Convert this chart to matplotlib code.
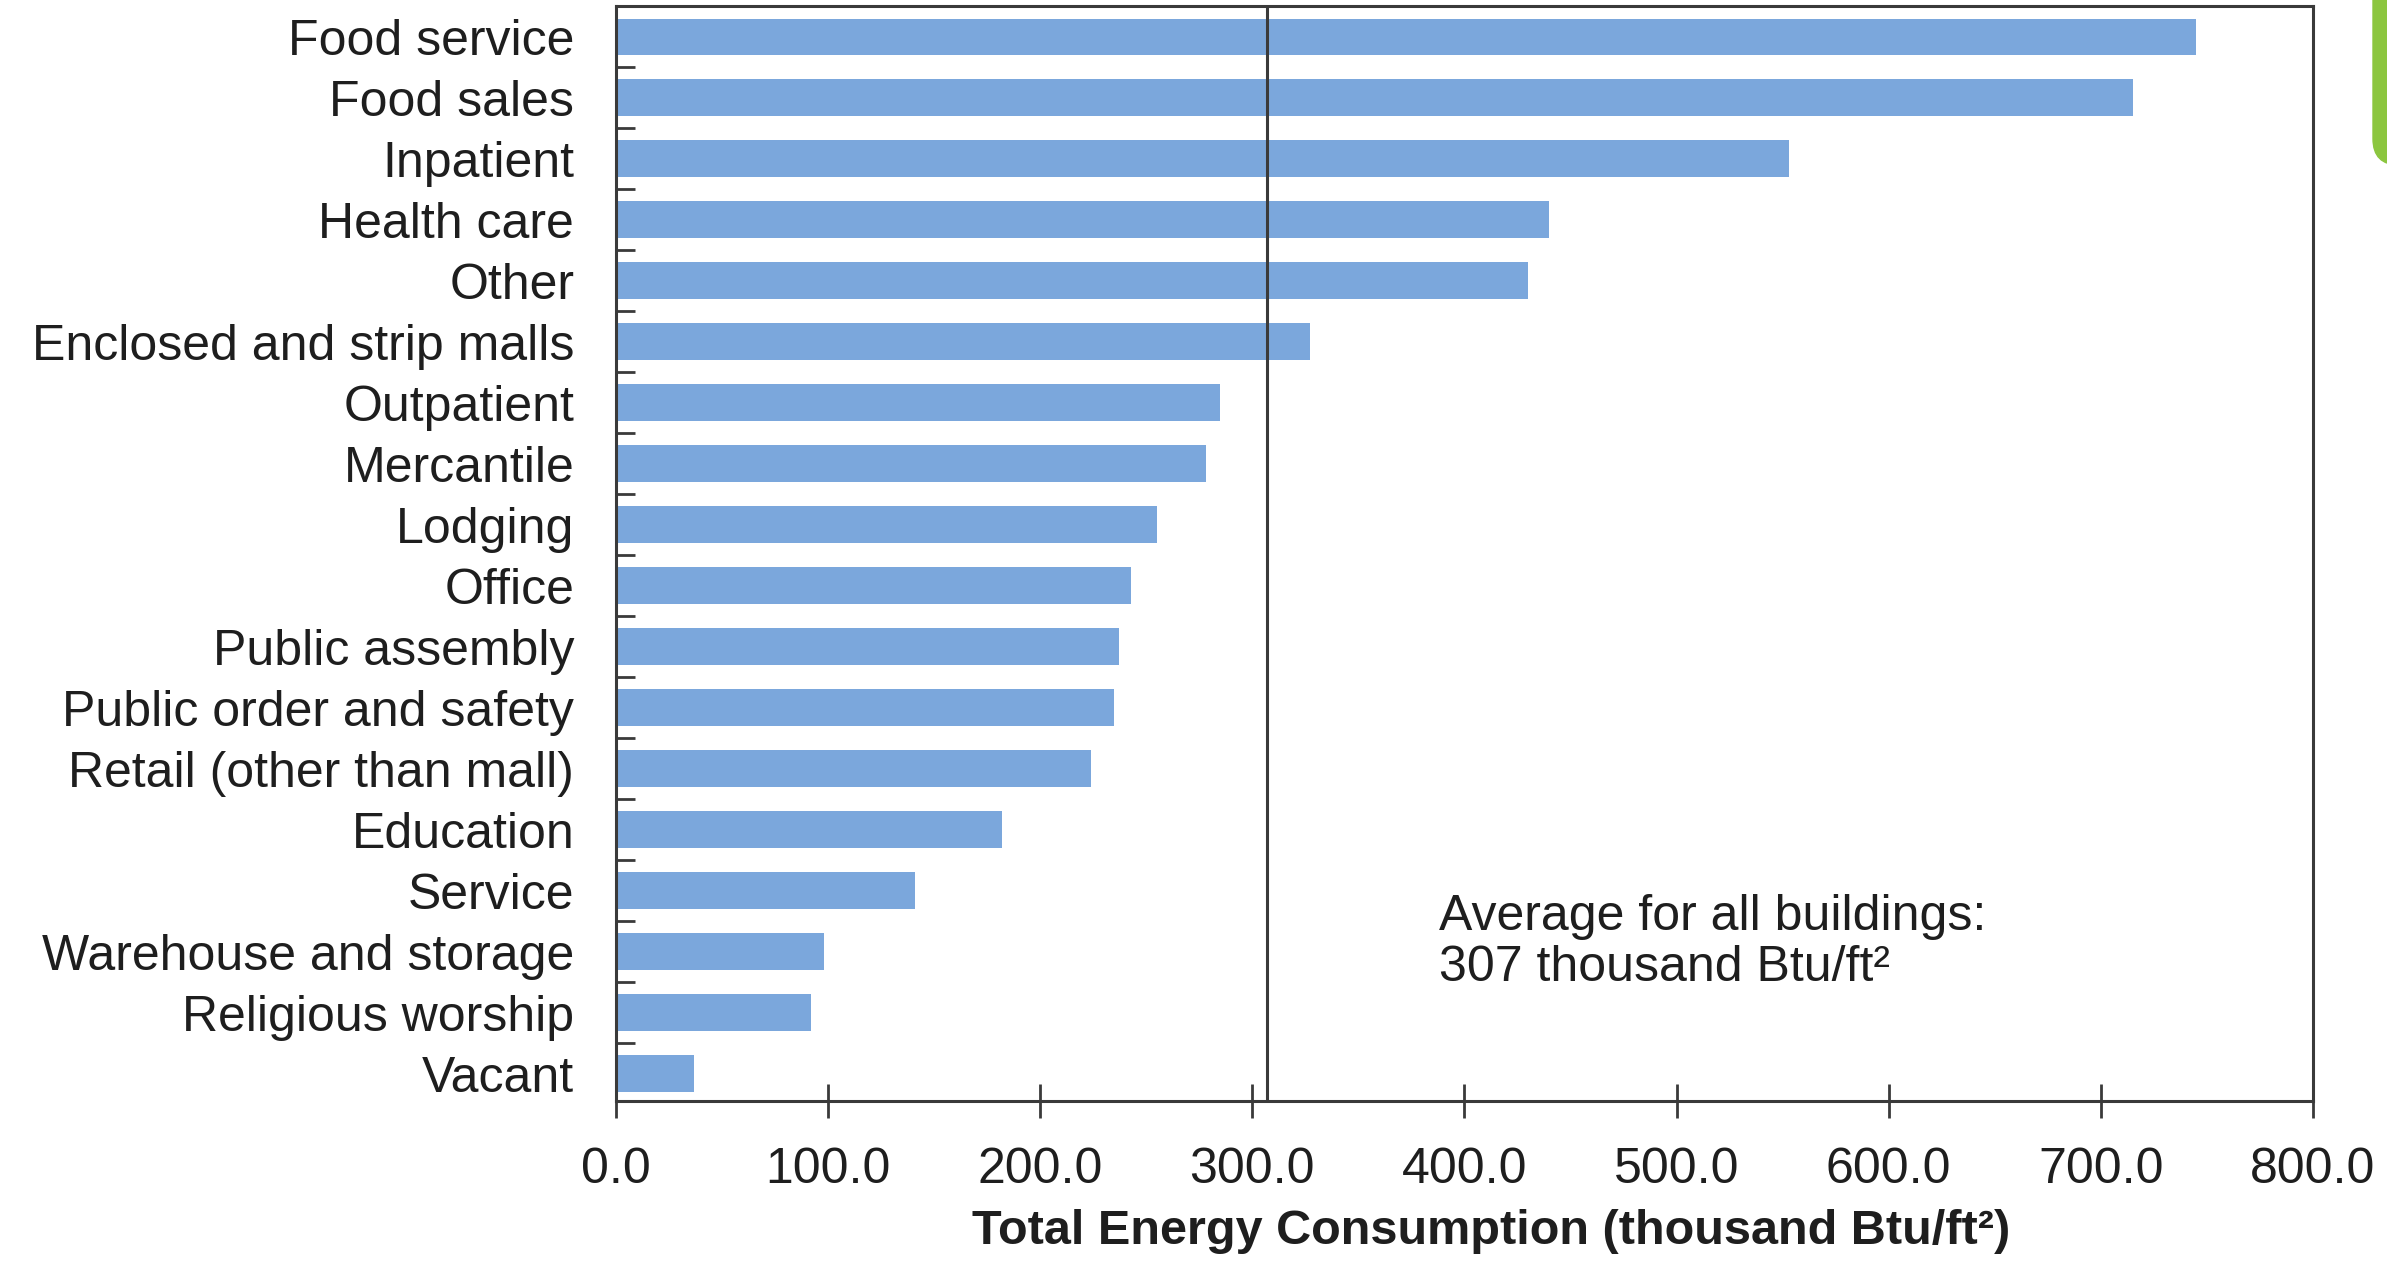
import numpy as np
import matplotlib.pyplot as plt
from matplotlib.patches import FancyBboxPatch
from matplotlib.ticker import FixedLocator

# ── data ─────────────────────────────────────────────
categories = [
    "Food service", "Food sales", "Inpatient", "Health care", "Other",
    "Enclosed and strip malls", "Outpatient", "Mercantile", "Lodging", "Office",
    "Public assembly", "Public order and safety", "Retail (other than mall)",
    "Education", "Service", "Warehouse and storage", "Religious worship", "Vacant",
]
values = [745, 715, 553, 440, 430, 327, 285, 278, 255, 243,
          237, 235, 224, 182, 141, 98, 92, 37]
average = 307
xticks = [0, 100, 200, 300, 400, 500, 600, 700, 800]

plt.rcParams['font.family'] = ['Liberation Sans', 'DejaVu Sans']

bar_color = '#7ba7dc'
ink = '#3a3a3a'
txt = '#1e1e1e'

fig = plt.figure(figsize=(23.87, 12.64), dpi=100)
ax = fig.add_axes([0.258, 0.129, 0.711, 0.866])

y = np.arange(len(categories))
ax.barh(y, values, height=0.6, color=bar_color, zorder=2)
ax.axvline(average, color=ink, lw=2.2, zorder=3)

ax.set_xlim(0, 800)
ax.set_ylim(len(categories) - 0.55, -0.5)

ax.set_xticks(xticks)
ax.set_xticklabels([f"{v:.1f}" for v in xticks], fontsize=36, color=txt)
ax.tick_params(axis='x', direction='inout', length=24, width=2, color=ink, pad=21)

ax.set_yticks(y)
ax.set_yticklabels(categories, fontsize=36, color=txt)
ax.tick_params(axis='y', which='major', length=0, pad=30)
ax.yaxis.set_minor_locator(FixedLocator(np.arange(len(categories) - 1) + 0.5))
ax.tick_params(axis='y', which='minor', direction='in', length=14, width=2, color=ink)

for s in ax.spines.values():
    s.set_color(ink)
    s.set_linewidth(2.2)

ax.set_xlabel("Total Energy Consumption (thousand Btu/ft²)", fontsize=35,
              fontweight='bold', color=txt)
ax.xaxis.set_label_coords(0.516, -0.099)

ax.text(388, 14.85, "Average for all buildings:\n307 thousand Btu/ft²",
        fontsize=36, color=txt, va='center', ha='left', linespacing=1.15)

# green tab in the top-right corner
fig.patches.append(FancyBboxPatch((2373 / 2387, 1099 / 1264), 0.05, 0.2,
                                  boxstyle="round,pad=0,rounding_size=0.011",
                                  transform=fig.transFigure, color='#8cc63f',
                                  mutation_aspect=2387 / 1264))

fig.savefig("out.png", dpi=100)
